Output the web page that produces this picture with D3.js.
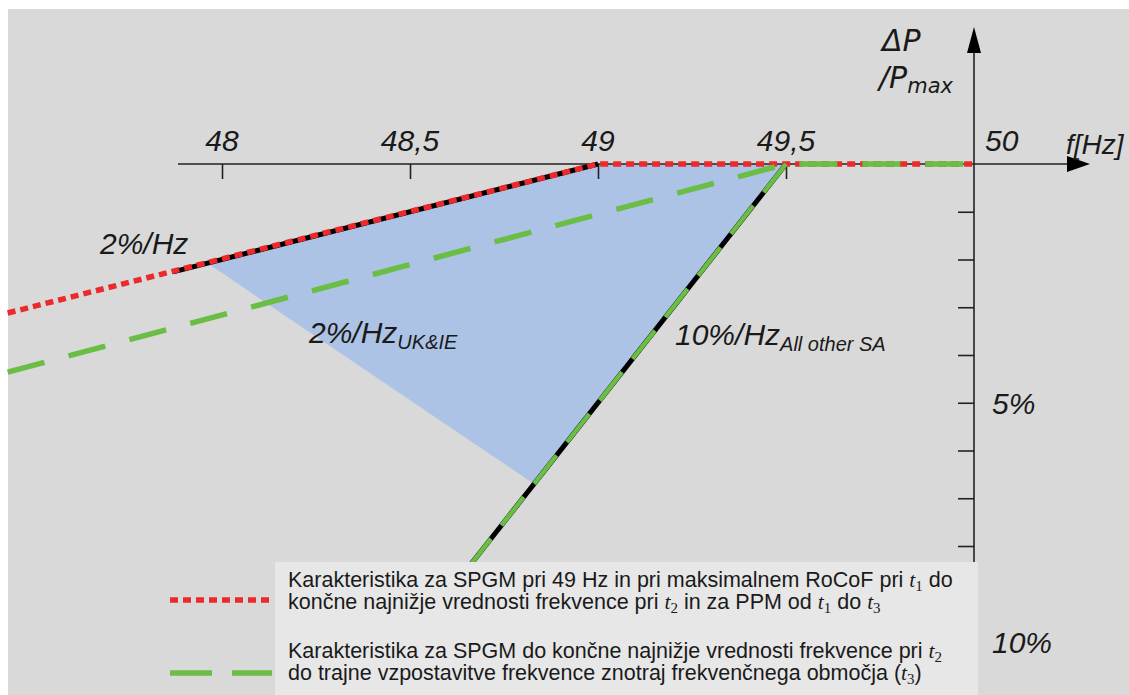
<!DOCTYPE html>
<html><head><meta charset="utf-8">
<script src="https://cdn.jsdelivr.net/npm/d3@7"></script>
<style>
html,body{margin:0;padding:0;background:#fff;}
svg{display:block;}
text{font-family:"Liberation Sans",Arial,sans-serif;fill:#1a1a1a;}
</style></head>
<body>
<svg id="c" width="1129" height="695"></svg>
<script>
// ---- data ----
const xTicks = [48, 48.5, 49, 49.5, 50];
const xTickLabels = ["48", "48,5", "49", "49,5", "50"];
const yTicks = [1, 2, 3, 4, 5, 6, 7, 8, 9, 10];
const yTickLabels = [{v: 5, t: "5%"}, {v: 10, t: "10%"}];
// [frequency Hz, ΔP/Pmax %]
const redLine = [[47.43, 3.12], [49, 0], [50, 0]];
const greenLine = [[47.43, 4.36], [49.5, 0], [50, 0]];
const green10Line = [[49.5, 0], [48.3, 12]];
const black2Line = [[47.87, 2.26], [49, 0]];
const black10Line = [[49.5, 0], [48.3, 12]];
const blueArea = [[49, 0], [47.96, 2.07], [48.83, 6.7], [49.5, 0]];
const legendItems = [
  {type: "red", lines: [
    [["Karakteristika za SPGM pri 49 Hz in pri maksimalnem RoCoF pri "], ["t", "m"], ["1", "s"], [" do"]],
    [["končne najnižje vrednosti frekvence pri "], ["t", "m"], ["2", "s"], [" in za PPM od "], ["t", "m"], ["1", "s"], [" do "], ["t", "m"], ["3", "s"]]
  ]},
  {type: "green", lines: [
    [["Karakteristika za SPGM do končne najnižje vrednosti frekvence pri "], ["t", "m"], ["2", "s"]],
    [["do trajne vzpostavitve frekvence znotraj frekvenčnega območja ("], ["t", "m"], ["3", "s"], [")"]]
  ]}
];

// ---- drawing ----
const svg = d3.select("#c");
const x = d3.scaleLinear().domain([48, 50]).range([222, 974]);
const y = d3.scaleLinear().domain([0, 10]).range([164, 641.5]);
const RED = "#ec2a2c", GREEN = "#6abd45", BLUE = "#adc3e6";

svg.append("rect").attr("x", 8).attr("y", 9).attr("width", 1121).attr("height", 686).attr("fill", "#d9d9d9");

const line = d3.line().x(d => x(d[0])).y(d => y(d[1]));

// blue area
svg.append("path").attr("d", line(blueArea) + "Z").attr("fill", BLUE);

// x axis line + arrow
svg.append("line").attr("x1", 178).attr("x2", 1072).attr("y1", y(0)).attr("y2", y(0)).attr("stroke", "#222").attr("stroke-width", 1.6);
svg.append("path").attr("d", `M1090,${y(0)} L1067,${y(0)-8} L1067,${y(0)+8} Z`).attr("fill", "#000");
const xAxis = svg.append("g").attr("transform", `translate(0,${y(0)})`)
  .call(d3.axisBottom(x).tickValues(xTicks.slice(0, 4)).tickSize(15).tickFormat(""));
xAxis.select(".domain").remove();
xAxis.selectAll("line").attr("stroke", "#222").attr("stroke-width", 1.6);

// x tick labels
svg.append("g").selectAll("text").data(xTicks).join("text")
  .attr("x", (d, i) => i === 4 ? x(d) + 11 : x(d))
  .attr("y", 151)
  .attr("text-anchor", (d, i) => i === 4 ? "start" : "middle")
  .style("font-size", "30px").style("font-style", "italic")
  .text((d, i) => xTickLabels[i]);

// y axis
svg.append("line").attr("x1", x(50)).attr("x2", x(50)).attr("y1", 50).attr("y2", 695).attr("stroke", "#222").attr("stroke-width", 1.6);
svg.append("path").attr("d", `M${x(50)},27 L${x(50)-7},53 L${x(50)+7},53 Z`).attr("fill", "#000");
const yAxis = svg.append("g").attr("transform", `translate(${x(50)},0)`)
  .call(d3.axisLeft(y).tickValues(yTicks).tickSize(16).tickFormat(""));
yAxis.select(".domain").remove();
yAxis.selectAll("line").attr("stroke", "#222").attr("stroke-width", 1.6);
svg.append("g").selectAll("text").data(yTickLabels).join("text")
  .attr("x", x(50) + 18).attr("y", d => y(d.v) + 11)
  .style("font-size", "30px").style("font-style", "italic")
  .text(d => d.t);

// axis titles
svg.append("text").attr("x", 1066).attr("y", 154).style("font-size", "28px").style("font-style", "italic").text("f[Hz]");
svg.append("text").attr("x", 882).attr("y", 51).style("font-size", "30px").style("font-style", "italic").style("font-family", "DejaVu Sans").text("ΔP");
const pm = svg.append("text").attr("x", 879).attr("y", 88).style("font-size", "30px").style("font-style", "italic").style("font-family", "DejaVu Sans");
pm.append("tspan").text("/P");
pm.append("tspan").attr("dy", 5).style("font-size", "21px").text("max");

// black under-lines
[black2Line, black10Line].forEach(d => svg.append("path").attr("d", line(d)).attr("fill", "none").attr("stroke", "#000").attr("stroke-width", 5));
// red dotted
svg.append("path").attr("d", line(redLine)).attr("fill", "none").attr("stroke", RED).attr("stroke-width", 5.5).attr("stroke-dasharray", "8,5");
// green dashed
svg.append("path").attr("d", line(greenLine)).attr("fill", "none").attr("stroke", GREEN).attr("stroke-width", 5.5).attr("stroke-dasharray", "38,25");
svg.append("path").attr("d", line(green10Line)).attr("fill", "none").attr("stroke", GREEN).attr("stroke-width", 4.5).attr("stroke-dasharray", "36,17");

// curve labels
function subLabel(xp, yp, main, sub) {
  const t = svg.append("text").attr("x", xp).attr("y", yp).style("font-size", "30px").style("font-style", "italic");
  t.append("tspan").text(main);
  if (sub) t.append("tspan").attr("dy", 6).style("font-size", "20px").text(sub);
}
subLabel(100, 254, "2%/Hz");
subLabel(309, 343, "2%/Hz", "UK&IE");
subLabel(675, 345, "10%/Hz", "All other SA");

// legend
svg.append("rect").attr("x", 275).attr("y", 562).attr("width", 703).attr("height", 133).attr("fill", "#e7e7e7");
const lg = svg.append("g");
const lineBase = [[587, 609], [658, 680]];
legendItems.forEach((item, i) => {
  const sy = i === 0 ? 600 : 673;
  lg.append("line").attr("x1", 170).attr("x2", 272).attr("y1", sy).attr("y2", sy)
    .attr("stroke", item.type === "red" ? RED : GREEN).attr("stroke-width", 5.5)
    .attr("stroke-dasharray", item.type === "red" ? "8,5" : "42,20");
  item.lines.forEach((segs, j) => {
    const t = lg.append("text").attr("x", 288).attr("y", lineBase[i][j]).style("font-size", "21.5px");
    let shifted = 0;
    segs.forEach(s => {
      const ts = t.append("tspan").text(s[0]);
      if (s[1] === "m") { ts.style("font-family", "Liberation Serif").style("font-style", "italic").style("font-size", "21.5px"); if (shifted) { ts.attr("dy", -shifted); shifted = 0; } }
      else if (s[1] === "s") { ts.style("font-family", "Liberation Serif").style("font-size", "15px").attr("dy", 4); shifted = 4; }
      else if (shifted) { ts.attr("dy", -shifted); shifted = 0; }
    });
  });
});
</script>
</body></html>
